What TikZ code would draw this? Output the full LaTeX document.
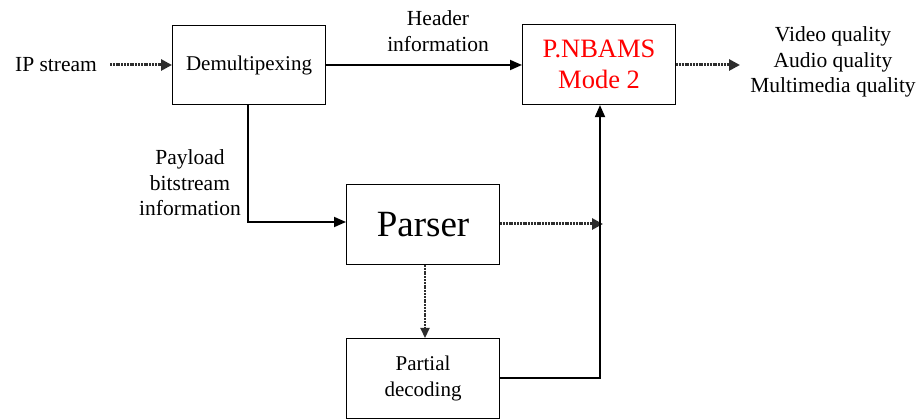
\documentclass[tikz,border=0pt]{standalone}
\usepackage{fontspec}
\setmainfont{Liberation Serif}
\usetikzlibrary{arrows.meta}
\definecolor{dotgray}{RGB}{45,45,45}
\begin{document}
\begin{tikzpicture}[x=1pt,y=-1pt,
  box/.style={draw, line width=1.1pt, minimum width=153pt, minimum height=79pt, inner sep=0pt, anchor=north west},
  lbl/.style={font=\fontsize{21.5}{25.5}\selectfont, align=center, inner sep=0pt},
  solidarrow/.style={line width=1.8pt, -{Triangle[length=12pt,width=10pt]}},
  dotarrow/.style={draw=dotgray, line width=3pt, dash pattern=on 2pt off 0.8pt, -{Triangle[length=11pt,width=11pt]}}
]
\useasboundingbox (0,0) rectangle (919,419);

% blocks
\node[box, font=\fontsize{21}{25}\selectfont] (demux) at (172,25) {Demultipexing};
\node[box, font=\fontsize{26.5}{31}\selectfont, text=red, align=center, minimum height=80pt] (nbams) at (522,24) {P.NBAMS\\Mode 2};
\node[box, font=\fontsize{37}{40}\selectfont, minimum height=80pt] (parser) at (346,184) {Parser};
\node[box, font=\fontsize{21}{25.5}\selectfont, align=center, minimum height=80pt] (partial) at (346,338) {Partial\\decoding};

% labels
\node[lbl] (ip) at (56,65) {IP stream};
\node[lbl] (hdr) at (438,31) {Header\\information};
\node[lbl] (pay) at (190,183) {Payload\\bitstream\\information};
\node[lbl] (out) at (833,62) {Video quality\\Audio quality\\Multimedia quality};

% helper points
\coordinate (ipend) at (110,65);
\coordinate (outend) at (740,65);
\coordinate (pbend) at (248,222);
\coordinate (parsend) at (603,224);
\coordinate (pdcorner) at (600,378);

% connectors
\draw[dotarrow] (ipend) -- (demux.west |- ipend);
\draw[solidarrow] (demux.east |- ipend) -- (nbams.west |- ipend);
\draw[solidarrow] (demux.south -| pbend) -- (pbend) -- (parser.west |- pbend);
\draw[dotarrow] (parser.east |- parsend) -- (parsend);
\draw[dotarrow, line width=2.2pt, -{Triangle[length=10pt,width=9pt]}] (parser.south -| 425,0) -- (partial.north -| 425,0);
\draw[solidarrow] (partial.east |- pdcorner) -- (pdcorner) -- (nbams.south -| pdcorner);
\draw[dotarrow] (nbams.east |- outend) -- (outend);
\end{tikzpicture}
\end{document}
